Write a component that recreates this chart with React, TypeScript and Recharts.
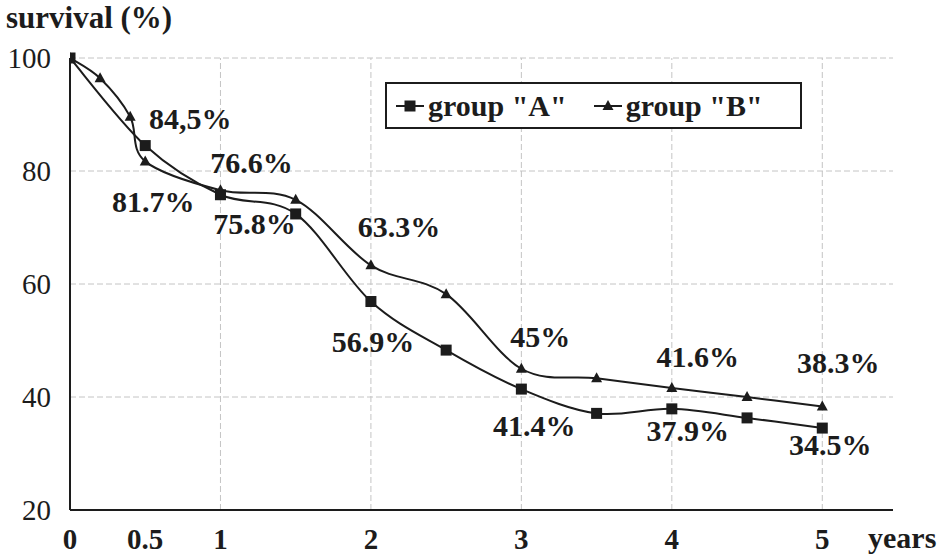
import React from "react";
import {
  LineChart,
  Line,
  XAxis,
  YAxis,
  CartesianGrid,
  ReferenceLine,
} from "recharts";

// survival curves, group "A" (squares) and group "B" (triangles)
const yearsA = [0, 0.5, 1, 1.5, 2, 2.5, 3, 3.5, 4, 4.5, 5];
const survivalA = [100, 84.5, 75.8, 72.4, 56.9, 48.3, 41.4, 37.1, 37.9, 36.3, 34.5];

const yearsB = [0, 0.2, 0.4, 0.5, 1, 1.5, 2, 2.5, 3, 3.5, 4, 4.5, 5];
const survivalB = [100, 96.4, 89.6, 81.7, 76.6, 74.9, 63.3, 58.2, 45, 43.3, 41.6, 40.0, 38.3];

const xTicks = [0, 0.5, 1, 2, 3, 4, 5];
const yTicks = [20, 40, 60, 80, 100];
const gridYears = [1, 2, 3, 4, 5];

// which points carry a value label, and where the text sits relative to the point
const labelsA = [
  { i: 1, dx: 45, dy: -17, sep: "," },
  { i: 2, dx: 34, dy: 39 },
  { i: 4, dx: 2, dy: 50 },
  { i: 6, dx: 13, dy: 47 },
  { i: 8, dx: 16, dy: 32 },
  { i: 10, dx: 8, dy: 27 },
];
const labelsB = [
  { i: 3, dx: 8, dy: 51 },
  { i: 4, dx: 31, dy: -17 },
  { i: 6, dx: 28, dy: -28 },
  { i: 8, dx: 19, dy: -22 },
  { i: 10, dx: 26, dy: -21 },
  { i: 12, dx: 16, dy: -34 },
];

const dataA = yearsA.map((year, i) => ({ year, survival: survivalA[i] }));
const dataB = yearsB.map((year, i) => ({ year, survival: survivalB[i] }));

const SERIF = "Times New Roman";
const INK = "#1c1c1c";

// spreadsheet-style smoothing: cubic bezier through every point (Catmull-Rom)
function smoothCurve(context: any) {
  let pts: number[][] = [];
  return {
    areaStart() {},
    areaEnd() {},
    lineStart() {
      pts = [];
    },
    point(x: number, y: number) {
      pts.push([+x, +y]);
    },
    lineEnd() {
      if (!pts.length) return;
      context.moveTo(pts[0][0], pts[0][1]);
      for (let i = 0; i < pts.length - 1; i++) {
        const p0 = pts[i - 1] || pts[i];
        const p1 = pts[i];
        const p2 = pts[i + 1];
        const p3 = pts[i + 2] || p2;
        context.bezierCurveTo(
          p1[0] + (p2[0] - p0[0]) / 6,
          p1[1] + (p2[1] - p0[1]) / 6,
          p2[0] - (p3[0] - p1[0]) / 6,
          p2[1] - (p3[1] - p1[1]) / 6,
          p2[0],
          p2[1]
        );
      }
    },
  };
}

function Marker({ shape, cx, cy }: { shape: string; cx: number; cy: number }) {
  if (shape === "square") {
    return <rect x={cx - 5.5} y={cy - 5.5} width={11} height={11} fill={INK} />;
  }
  return (
    <polygon
      points={`${cx},${cy - 6} ${cx + 5.5},${cy + 4} ${cx - 5.5},${cy + 4}`}
      fill={INK}
    />
  );
}

const makeDot =
  (shape: string, labels: { i: number; dx: number; dy: number; sep?: string }[]) =>
  (props: any) => {
    const { cx, cy, index, payload } = props;
    const lab = labels.find((l) => l.i === index);
    let text = "";
    if (lab) {
      text = String(payload.survival);
      if (lab.sep) text = text.replace(".", lab.sep);
      text += "%";
    }
    return (
      <g key={`${shape}-${index}`}>
        <Marker shape={shape} cx={cx} cy={cy} />
        {lab && (
          <text
            x={cx + lab.dx}
            y={cy + lab.dy}
            textAnchor="middle"
            fontFamily={SERIF}
            fontWeight="bold"
            fontSize={30}
            fill={INK}
          >
            {text}
          </text>
        )}
      </g>
    );
  };

function LegendItem({ shape, label }: { shape: string; label: string }) {
  return (
    <div style={{ display: "flex", alignItems: "center" }}>
      <svg width={30} height={20}>
        <line x1={1} y1={10} x2={29} y2={10} stroke={INK} strokeWidth={2} />
        <Marker shape={shape} cx={15} cy={10} />
      </svg>
      <span style={{ marginLeft: 3 }}>{label}</span>
    </div>
  );
}

export default function App() {
  return (
    <div
      style={{
        position: "absolute",
        left: 0,
        top: 0,
        width: 945,
        height: 558,
        background: "#fff",
      }}
    >
      <LineChart
        width={945}
        height={558}
        margin={{ top: 58, right: 52, bottom: 0, left: 10 }}
      >
        <CartesianGrid
          vertical={false}
          stroke="#c4c4c4"
          strokeDasharray="6 3"
        />
        {gridYears.map((y) => (
          <ReferenceLine
            key={y}
            x={y}
            stroke="#c4c4c4"
            strokeDasharray="6 3"
          />
        ))}
        <XAxis
          type="number"
          dataKey="year"
          domain={[0, 5.47]}
          ticks={xTicks}
          allowDataOverflow
          height={48}
          tickLine={false}
          tickSize={0}
          tickMargin={18}
          axisLine={{ stroke: INK, strokeWidth: 2 }}
          tick={{
            fill: INK,
            fontFamily: SERIF,
            fontWeight: "bold",
            fontSize: 29,
          }}
          label={{
            content: (p: any) => (
              <text
                x={p.viewBox.x + p.viewBox.width - 25}
                y={p.viewBox.y + 38}
                fontFamily={SERIF}
                fontWeight="bold"
                fontSize={30}
                fill={INK}
              >
                years
              </text>
            ),
          }}
        />
        <YAxis
          type="number"
          domain={[20, 100]}
          ticks={yTicks}
          width={60}
          tickLine={false}
          tickSize={0}
          tickMargin={19}
          axisLine={{ stroke: INK, strokeWidth: 2 }}
          tick={{ fill: INK, fontFamily: SERIF, fontSize: 29 }}
          label={{
            content: (p: any) => (
              <text
                x={6}
                y={p.viewBox.y - 30}
                fontFamily={SERIF}
                fontWeight="bold"
                fontSize={31}
                fill={INK}
              >
                survival (%)
              </text>
            ),
          }}
        />
        <Line
          data={dataA}
          dataKey="survival"
          name='group "A"'
          type={smoothCurve as any}
          stroke={INK}
          strokeWidth={2}
          dot={makeDot("square", labelsA)}
          activeDot={false}
          isAnimationActive={false}
        />
        <Line
          data={dataB}
          dataKey="survival"
          name='group "B"'
          type={smoothCurve as any}
          stroke={INK}
          strokeWidth={2}
          dot={makeDot("triangle", labelsB)}
          activeDot={false}
          isAnimationActive={false}
        />
      </LineChart>
      <div
        style={{
          position: "absolute",
          left: 385,
          top: 82,
          width: 417,
          height: 47,
          boxSizing: "border-box",
          border: `2px solid ${INK}`,
          display: "flex",
          alignItems: "center",
          gap: 26,
          paddingLeft: 8,
          fontFamily: SERIF,
          fontWeight: "bold",
          fontSize: 30,
          color: INK,
          background: "#fff",
        }}
      >
        <LegendItem shape="square" label='group "A"' />
        <LegendItem shape="triangle" label='group "B"' />
      </div>
    </div>
  );
}
